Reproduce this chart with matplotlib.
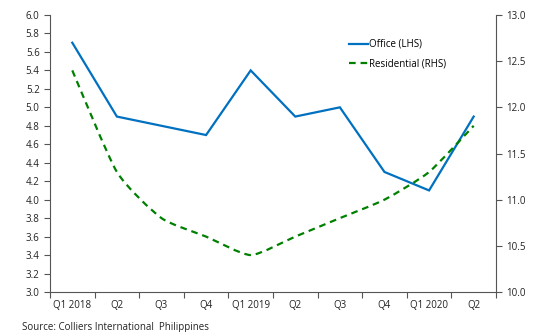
import numpy as np
import matplotlib
matplotlib.use("Agg")
import matplotlib.pyplot as plt
from matplotlib.path import Path
from matplotlib.patches import PathPatch
from matplotlib.lines import Line2D

quarters = ["Q1 2018", "Q2", "Q3", "Q4", "Q1 2019", "Q2", "Q3", "Q4", "Q1 2020", "Q2"]
office = [5.7, 4.9, 4.8, 4.7, 5.4, 4.9, 5.0, 4.3, 4.1, 4.9]
residential = [12.4, 11.3, 10.8, 10.6, 10.4, 10.6, 10.8, 11.0, 11.3, 11.8]

plt.rcParams["font.family"] = ["Open Sans", "DejaVu Sans"]
fig = plt.figure(figsize=(5.34, 3.32), dpi=100)
ax = fig.add_axes([0.0936, 0.1205, 0.8352, 0.8343])
ax2 = ax.twinx()

x = np.arange(len(quarters))
blue = "#0070C0"
green = "#008000"

ax.plot(x, office, color=blue, lw=1.6, solid_joinstyle="miter", zorder=3)


def smooth_path(xs, ys, k=1.0 / 10):
    # cubic Bezier segments through the points (Catmull-Rom style tangents)
    pts = np.column_stack([xs, ys]).astype(float)
    n = len(pts)
    verts = [pts[0]]
    codes = [Path.MOVETO]
    for i in range(n - 1):
        p0 = pts[i - 1] if i > 0 else pts[i]
        p1 = pts[i]
        p2 = pts[i + 1]
        p3 = pts[i + 2] if i + 2 < n else pts[i + 1]
        c1 = p1 + (p2 - p0) * k
        c2 = p2 - (p3 - p1) * k
        verts += [c1, c2, p2]
        codes += [Path.CURVE4] * 3
    return Path(verts, codes)


ax2.add_patch(PathPatch(smooth_path(x, residential), fill=False, edgecolor=green,
                        lw=1.6, linestyle=(0, (3, 2.2)), zorder=3))

ax.set_xlim(-0.5, 9.5)
ax.set_ylim(3.0, 6.0)
ax2.set_ylim(10.0, 13.0)
ax.set_yticks(np.arange(3.0, 6.01, 0.2))
ax.set_yticklabels([f"{v:.1f}" for v in np.arange(3.0, 6.01, 0.2)])
ax2.set_yticks(np.arange(10.0, 13.01, 0.5))
ax2.set_yticklabels([f"{v:.1f}" for v in np.arange(10.0, 13.01, 0.5)])

ax.set_xticks(x)
ax.set_xticklabels(quarters)
ax.set_xticks(np.arange(-0.5, 9.6, 1.0), minor=True)
ax.tick_params(axis="x", which="major", length=0, pad=6, labelsize=7)
ax.tick_params(axis="x", which="minor", length=4, width=0.8, color="#555555", direction="out")
ax.tick_params(axis="y", length=4, width=0.8, color="#555555", labelsize=7)
ax2.tick_params(axis="y", length=4, width=0.8, color="#555555", labelsize=7)
for lab in ax.get_xticklabels() + ax.get_yticklabels() + ax2.get_yticklabels():
    lab.set_color("#222222")

for a in (ax, ax2):
    a.spines["top"].set_visible(False)
    for s in ("left", "right", "bottom"):
        a.spines[s].set_color("#555555")
        a.spines[s].set_linewidth(0.8)
ax.spines["right"].set_visible(False)
ax2.spines["left"].set_visible(False)
ax2.spines["bottom"].set_visible(False)

handles = [Line2D([], [], color=blue, lw=1.6),
           Line2D([], [], color=green, lw=1.6, linestyle=(0, (3, 2.2)))]
ax.legend(handles, ["Office (LHS)", "Residential (RHS)"], loc="upper left",
          bbox_to_anchor=(0.65, 0.945), frameon=False, fontsize=7,
          handlelength=2.0, handletextpad=0.1, labelspacing=0.9)

fig.text(0.041, 0.006, "Source: Colliers International  Philippines", fontsize=7, color="#222222")

fig.savefig("out.png", dpi=100)
